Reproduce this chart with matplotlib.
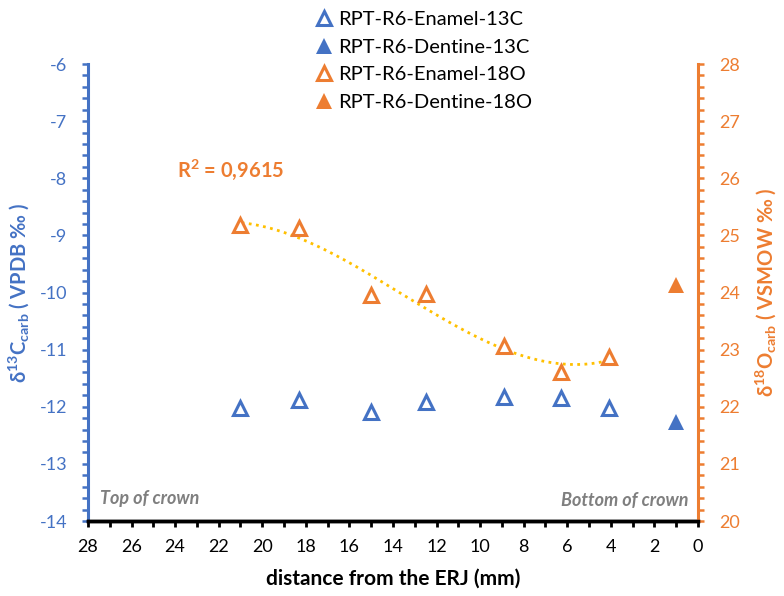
import numpy as np
import matplotlib.pyplot as plt
from matplotlib.lines import Line2D
from matplotlib.ticker import MultipleLocator

plt.rcParams['font.family'] = ['Lato', 'DejaVu Sans']
plt.rcParams['axes.unicode_minus'] = False
plt.rcParams['mathtext.fontset'] = 'custom'
plt.rcParams['mathtext.rm'] = 'Lato:bold'
plt.rcParams['mathtext.it'] = 'Lato:bold'
plt.rcParams['mathtext.bf'] = 'Lato:bold'
plt.rcParams['mathtext.default'] = 'rm'

BLUE = '#4472C4'
ORANGE = '#ED7D31'
GOLD = '#FFC000'
GREY = '#7F7F7F'

# distance from the ERJ (mm)
enamel_dist = [21.0, 18.3, 15.0, 12.5, 8.9, 6.3, 4.1]
dentine_dist = [1.0]

# d13C carb (VPDB)
enamel_13c = [-12.02, -11.88, -12.09, -11.92, -11.83, -11.85, -12.02]
dentine_13c = [-12.27]

# d18O carb (VSMOW)
enamel_18o = [25.18, 25.13, 23.95, 23.97, 23.06, 22.61, 22.87]
dentine_18o = [24.13]

r2_label = 'R$^{2}$ = 0,9615'

fig = plt.figure(figsize=(7.84, 5.96), dpi=100)
ax = fig.add_axes([0.1122, 0.1258, 0.778, 0.7668])
ax2 = ax.twinx()

ms = 10
mew = 2.2
ax.plot(enamel_dist, enamel_13c, '^', ms=ms, mew=mew, mfc='white', mec=BLUE, ls='none', zorder=3)
ax.plot(dentine_dist, dentine_13c, '^', ms=ms + 1.5, mew=0, mfc=BLUE, ls='none', zorder=3)

# third order trendline through the enamel d18O
coef = np.polyfit(enamel_dist, enamel_18o, 3)
xs = np.linspace(min(enamel_dist), max(enamel_dist), 200)
ax2.plot(xs, np.polyval(coef, xs), color=GOLD, lw=2, ls=(0, (1, 1.6)), zorder=2)
ax2.plot(enamel_dist, enamel_18o, '^', ms=ms, mew=mew, mfc='white', mec=ORANGE, ls='none', zorder=3)
ax2.plot(dentine_dist, dentine_18o, '^', ms=ms + 1.5, mew=0, mfc=ORANGE, ls='none', zorder=3)

ax.set_xlim(28, 0)
ax.set_ylim(-14, -6)
ax2.set_ylim(20, 28)

ax.xaxis.set_major_locator(MultipleLocator(2))
ax.xaxis.set_minor_locator(MultipleLocator(1))
ax.yaxis.set_major_locator(MultipleLocator(1))
ax.yaxis.set_minor_locator(MultipleLocator(0.2))
ax2.yaxis.set_major_locator(MultipleLocator(1))
ax2.yaxis.set_minor_locator(MultipleLocator(0.2))

for a in (ax, ax2):
    a.spines['top'].set_visible(False)
    a.spines['bottom'].set_linewidth(2.5)
    a.spines['bottom'].set_color('black')
ax.spines['right'].set_visible(False)
ax.spines['left'].set_color(BLUE)
ax.spines['left'].set_linewidth(2.2)
ax2.spines['left'].set_visible(False)
ax2.spines['right'].set_color(ORANGE)
ax2.spines['right'].set_linewidth(2.2)

ax.tick_params(axis='x', which='both', direction='out', length=4, width=2, color='black',
               labelsize=13, pad=9)
ax.tick_params(axis='y', which='both', direction='out', length=4, width=1.8, color=BLUE,
               labelcolor=BLUE, labelsize=13, pad=11)
ax2.tick_params(axis='y', which='both', direction='out', length=4, width=1.8, color=ORANGE,
                labelcolor=ORANGE, labelsize=13, pad=11)

ax.set_xlabel('distance from the ERJ (mm)', fontsize=15, fontweight='bold', labelpad=10)
ax.set_ylabel('δ$^{13}$C$_{carb}$ ( VPDB ‰ )', fontsize=14.5, fontweight='bold',
              color=BLUE, labelpad=6)
ax2.set_ylabel('δ$^{18}$O$_{carb}$ ( VSMOW ‰ )', fontsize=14.5, fontweight='bold',
               color=ORANGE, labelpad=10, rotation=90)

ax.text(0.02, 0.05, 'Top of crown', transform=ax.transAxes, fontsize=13,
        style='italic', fontweight='bold', color=GREY, ha='left', va='center')
ax.text(0.985, 0.045, 'Bottom of crown', transform=ax.transAxes, fontsize=13,
        style='italic', fontweight='bold', color=GREY, ha='right', va='center')
ax2.text(0.146, 0.768, r2_label, transform=ax.transAxes, fontsize=14.5,
         fontweight='bold', color=ORANGE, ha='left', va='center')

handles = [
    Line2D([], [], marker='^', ls='none', ms=ms, mew=mew, mfc='white', mec=BLUE),
    Line2D([], [], marker='^', ls='none', ms=ms + 1.5, mew=0, mfc=BLUE),
    Line2D([], [], marker='^', ls='none', ms=ms, mew=mew, mfc='white', mec=ORANGE),
    Line2D([], [], marker='^', ls='none', ms=ms + 1.5, mew=0, mfc=ORANGE),
]
labels = ['RPT-R6-Enamel-13C', 'RPT-R6-Dentine-13C', 'RPT-R6-Enamel-18O', 'RPT-R6-Dentine-18O']
fig.legend(handles, labels, loc='upper left', bbox_to_anchor=(0.385, 1.005), frameon=False,
           fontsize=14.5, handlelength=0.8, handletextpad=0.3, labelspacing=0.52,
           borderaxespad=0.3)

fig.savefig('out.png', dpi=100)
